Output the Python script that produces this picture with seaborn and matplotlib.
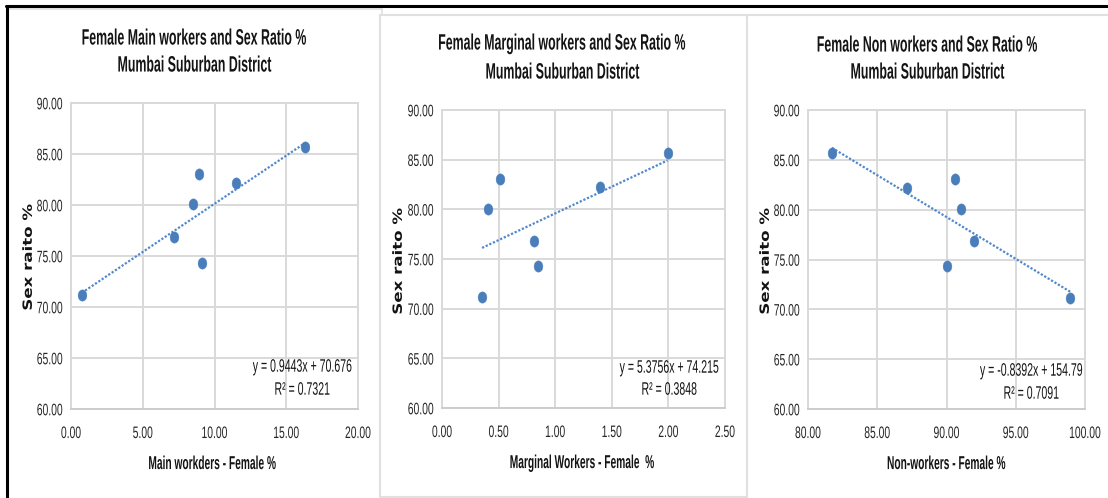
import matplotlib
matplotlib.use("Agg")
import matplotlib.pyplot as plt
import matplotlib.ticker as mticker
from matplotlib.lines import Line2D
from matplotlib.path import Path
from matplotlib.patheffects import AbstractPathEffect
from matplotlib.transforms import Affine2D
import numpy as np
import pandas as pd
import seaborn as sns

# Female worker shares (%) and sex ratio for the seven areas of the district
sex_ratio = [71.15, 76.85, 80.05, 83.05, 74.3, 82.2, 85.65]
main_workers_f = [0.75, 7.2, 8.52, 8.92, 9.13, 11.5, 16.29]
marginal_workers_f = [0.354, 0.811, 0.407, 0.516, 0.852, 1.40, 1.993]
non_workers_f = [98.94, 92.0, 91.04, 90.60, 90.02, 87.18, 81.73]

# Linear trend lines (slope, intercept, R²)
trend_slope = [0.9443, 5.3756, -0.8392]
trend_intercept = [70.676, 74.215, 154.79]
trend_intercept_txt = ["70.676", "74.215", "154.79"]
trend_r2 = ["0.7321", "0.3848", "0.7091"]

titles = [
    ["Female Main workers and Sex Ratio %", "Mumbai Suburban District"],
    ["Female Marginal workers and Sex Ratio %", "Mumbai Suburban District"],
    ["Female Non workers and Sex Ratio %", "Mumbai Suburban District"],
]
x_labels = ["Main workders - Female %", "Marginal Workers - Female  %", "Non-workers - Female %"]
y_label = "Sex raito %"
x_limits = [(0, 20), (0, 2.5), (80, 100)]
x_steps = [5, 0.5, 5]


class Stretch(AbstractPathEffect):
    """Draw text glyphs scaled along (sx) and across (sy) the text direction."""

    def __init__(self, sx=1.0, sy=1.0):
        super().__init__()
        self.sx = sx
        self.sy = sy

    def draw_path(self, renderer, gc, tpath, affine, rgbFace=None):
        ext = tpath.get_extents()
        cx = 0.5 * (ext.x0 + ext.x1)
        cy = 36.0  # middle of the cap height in glyph units
        tall = Affine2D().translate(-cx, -cy).scale(self.sx, self.sy).translate(cx, cy)
        renderer.draw_path(gc, tpath, tall + affine, rgbFace)


sns.set_theme(style="white")
plt.rcParams["font.family"] = ["Liberation Sans", "DejaVu Sans"]

W, H = 1108, 498
fig = plt.figure(figsize=(W / 100, H / 100), dpi=100)
fig.patch.set_facecolor("white")


def fx(px):
    return px / W


def fy(py):
    return 1 - py / H


# plot areas: (left, right, top, bottom) in pixels
boxes = [(71, 358, 103, 409), (442, 725, 110, 408), (808, 1085, 110, 409)]
title_pos = [(195, 38, 65), (563, 43, 72), (928, 45, 72)]
xlabel_pos = [(213, 463), (583, 462), (947, 463)]
ylabel_pos = [(28, 257), (398, 261), (765, 261)]
eq_pos = [(302, 366, 389), (669, 367, 389), (1031, 370, 393)]

blue = "#4a7ebb"
grid_c = "#d9d9d9"
text_c = "#141414"
tick_c = "#262626"
marker = Path.unit_circle().transformed(Affine2D().scale(0.78, 1.0))

# condensed lettering: small face drawn taller
title_fx = [Stretch(sy=1.80)]
label_fx = [Stretch(sy=1.83)]
tick_fx = [Stretch(sy=1.61)]
eq_fx = [Stretch(sy=1.71)]
ylab_fx = [Stretch(sx=1.14, sy=0.87)]

xs_all = [main_workers_f, marginal_workers_f, non_workers_f]

for i in range(3):
    l, r, t, b = boxes[i]
    ax = fig.add_axes([fx(l), fy(b), fx(r - l), (b - t) / H])
    df = pd.DataFrame({"x": xs_all[i], "y": sex_ratio})
    sns.scatterplot(data=df, x="x", y="y", ax=ax, color=blue, marker=marker,
                    s=66, edgecolor=blue, linewidth=0.3, zorder=3)
    xr = np.array([min(xs_all[i]), max(xs_all[i])])
    trend = pd.DataFrame({"x": xr, "y": trend_slope[i] * xr + trend_intercept[i]})
    sns.lineplot(data=trend, x="x", y="y", ax=ax, color="#5088cc",
                 linestyle=(0, (1, 0.8)), linewidth=1.6, zorder=2)
    lo, hi = x_limits[i]
    ax.set_xlim(lo, hi)
    ax.set_ylim(60, 90)
    ax.set_xticks(np.arange(lo, hi + x_steps[i] / 2, x_steps[i]))
    ax.set_yticks(np.arange(60, 91, 5))
    ax.xaxis.set_major_formatter(mticker.FormatStrFormatter("%.2f"))
    ax.yaxis.set_major_formatter(mticker.FormatStrFormatter("%.2f"))
    ax.grid(True, color=grid_c, linewidth=1.4)
    ax.set_axisbelow(True)
    for s in ax.spines.values():
        s.set_color(grid_c)
        s.set_linewidth(1.4)
    ax.spines["bottom"].set_color("#cccccc")
    ax.tick_params(axis="both", length=0, labelsize=7.45, colors=tick_c)
    ax.tick_params(axis="x", pad=13.5)
    ax.tick_params(axis="y", pad=6)
    for lbl in ax.get_xticklabels() + ax.get_yticklabels():
        lbl.set_path_effects(tick_fx)
    ax.set_xlabel("")
    ax.set_ylabel("")

    tx, ty1, ty2 = title_pos[i]
    for txt, ty in zip(titles[i], (ty1, ty2)):
        fig.text(fx(tx), fy(ty), txt, ha="center", va="center", fontsize=8.9,
                 fontweight="bold", color=text_c, path_effects=title_fx)

    lx, ly = xlabel_pos[i]
    fig.text(fx(lx), fy(ly), x_labels[i], ha="center", va="center", fontsize=7.35,
             fontweight="bold", color=text_c, path_effects=label_fx)
    yx, yy = ylabel_pos[i]
    fig.text(fx(yx), fy(yy), y_label, ha="center", va="center", fontsize=10.5,
             fontweight="bold", rotation=90, color=text_c, family="DejaVu Sans",
             path_effects=ylab_fx)

    ex, ey1, ey2 = eq_pos[i]
    sign = "+" if trend_intercept[i] >= 0 else "-"
    fig.text(fx(ex), fy(ey1), f"y = {trend_slope[i]:.4f}x {sign} {trend_intercept_txt[i]}",
             ha="center", va="center", fontsize=7.6, color=text_c, path_effects=eq_fx)
    fig.text(fx(ex), fy(ey2), f"R² = {trend_r2[i]}", ha="center", va="center",
             fontsize=7.6, color=text_c, path_effects=eq_fx)


# frame lines around the panels
def hline(y, x0, x1, color, lw):
    fig.add_artist(Line2D([fx(x0), fx(x1)], [fy(y), fy(y)], color=color, linewidth=lw,
                          transform=fig.transFigure))


def vline(x, y0, y1, color, lw):
    fig.add_artist(Line2D([fx(x), fx(x)], [fy(y0), fy(y1)], color=color, linewidth=lw,
                          transform=fig.transFigure))


gray = "#e0e0e0"
hline(9, 8, 382, gray, 1.2)
vline(382, 9, 15, gray, 1.2)
hline(15.5, 380, 1108, gray, 1.5)
vline(380, 15, 497, gray, 1.5)
hline(496.5, 380, 747, gray, 1.5)
vline(746.5, 15, 498, gray, 1.5)
hline(6.5, 6, 1108, "black", 2.2)
vline(7, 6, 498, "black", 2.2)

fig.savefig("out.png", dpi=100, facecolor="white")
